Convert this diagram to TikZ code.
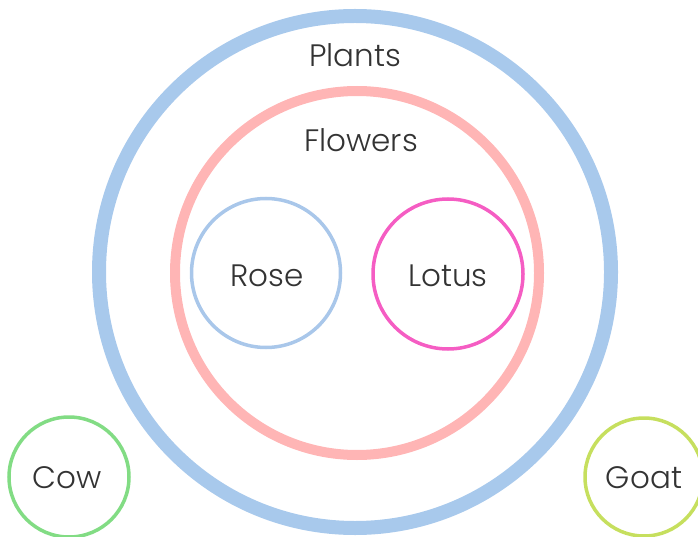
\documentclass[tikz,border=0pt]{standalone}
\usepackage{fontspec}
\setmainfont{Poppins}[UprightFont=* Light]
\definecolor{plantblue}{HTML}{A8C9EC}
\definecolor{flowerpink}{HTML}{FFB5B5}
\definecolor{roseblue}{HTML}{A9C7EA}
\definecolor{lotuspink}{HTML}{F55DC3}
\definecolor{cowgreen}{HTML}{82DC84}
\definecolor{goatgreen}{HTML}{C6DF5E}
\definecolor{txt}{HTML}{333333}
\begin{document}
\begin{tikzpicture}[x=1pt,y=-1pt,
  ring/.style={circle,draw,minimum size=#1,inner sep=0pt},
  lbl/.style={text=txt,font=\fontsize{31}{32}\selectfont,anchor=base,inner sep=0pt}]
\useasboundingbox (0,0) rectangle (698,537);
\node[ring=512pt,draw=plantblue,line width=14pt] (plants) at (355,272) {};
\node[ring=364pt,draw=flowerpink,line width=10pt] (flowers) at (357,273) {};
\node[ring=149pt,draw=roseblue,line width=3.5pt] (rose) at (266,273) {};
\node[ring=150pt,draw=lotuspink,line width=3.5pt] (lotus) at (448,274) {};
\node[ring=120pt,draw=cowgreen,line width=3.5pt] (cow) at (69,477) {};
\node[ring=118pt,draw=goatgreen,line width=3.5pt] (goat) at (644,477) {};
\node[lbl] (tplants) at (355,67) {Plants};
\node[lbl] (tflowers) at (361,152) {Flowers};
\node[lbl] (trose) at (267,286) {Rose};
\node[lbl] (tlotus) at (448,286) {Lotus};
\node[lbl] (tcow) at (67,488) {Cow};
\node[lbl] (tgoat) at (644,488) {Goat};
\end{tikzpicture}
\end{document}
